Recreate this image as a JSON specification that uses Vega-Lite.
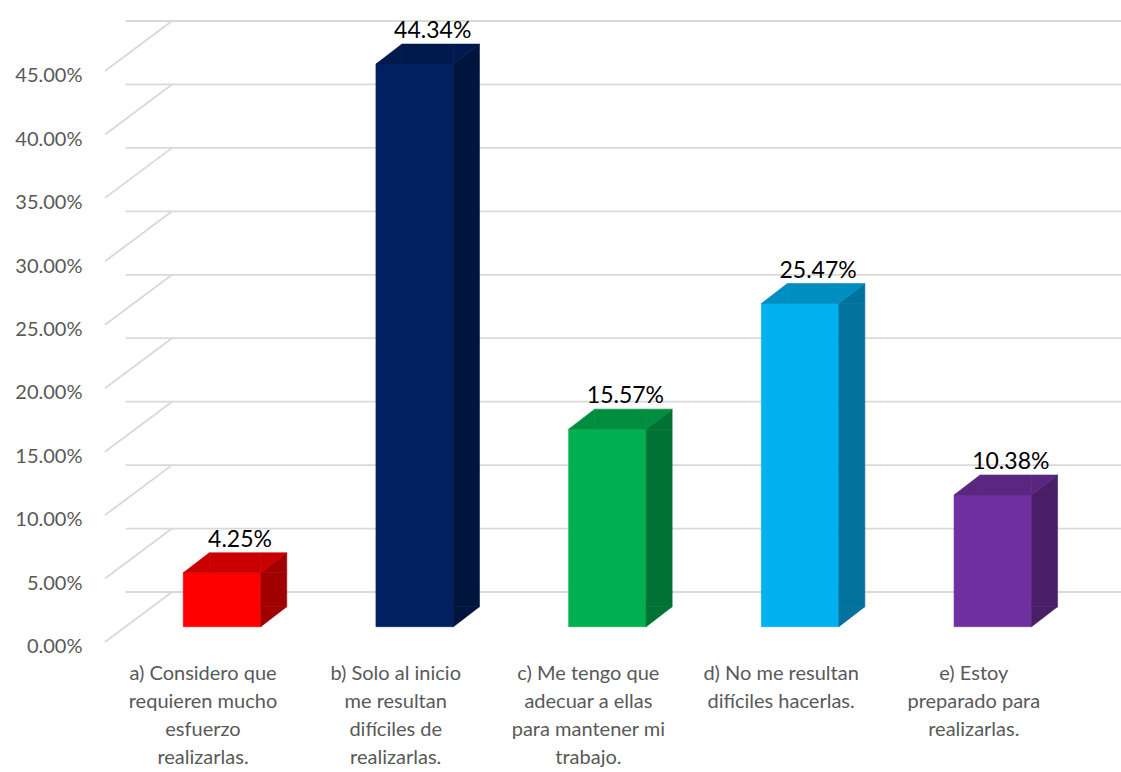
{
  "$schema": "https://vega.github.io/schema/vega-lite/v6.json",
  "width": 963.5,
  "height": 571,
  "autosize": {"type": "none"},
  "padding": {"left": 125.65, "top": 55.7, "right": 31.85, "bottom": 145.3},
  "background": "white",
  "config": {"view": {"stroke": null}, "font": "Lato"},
  "datasets": {
    "bars": [
      {"cat": "a) Considero que\nrequieren mucho\nesfuerzo\nrealizarlas.", "value": 0.0425},
      {"cat": "b) Solo al inicio\nme resultan\ndifíciles de\nrealizarlas.", "value": 0.4434},
      {"cat": "c) Me tengo que\nadecuar a ellas\npara mantener mi\ntrabajo.", "value": 0.1557},
      {"cat": "d) No me resultan\ndifíciles hacerlas.", "value": 0.2547},
      {"cat": "e) Estoy\npreparado para\nrealizarlas.", "value": 0.1038}
    ],
    "gridvals": [
      {"tick": 0}, {"tick": 0.05}, {"tick": 0.1}, {"tick": 0.15}, {"tick": 0.2},
      {"tick": 0.25}, {"tick": 0.3}, {"tick": 0.35}, {"tick": 0.4}, {"tick": 0.45}
    ]
  },
  "layer": [
    {
      "data": {"name": "gridvals"},
      "mark": {"type": "rule", "color": "#D9D9D9", "strokeWidth": 1.8, "xOffset": 46.35, "x2Offset": 31.85, "yOffset": -34.7, "clip": false},
      "encoding": {
        "y": {
          "field": "tick", "type": "quantitative",
          "scale": {"domain": [0, 0.45], "nice": false, "zero": true},
          "axis": {
            "title": null,
            "values": [0, 0.05, 0.1, 0.15, 0.2, 0.25, 0.3, 0.35, 0.4, 0.45],
            "format": ".2%",
            "labelFont": "Lato",
            "labelFontSize": 20,
            "labelColor": "#595959",
            "labelBaseline": "line-top",
            "labelLineHeight": 39.4,
            "offset": 41.65,
            "ticks": false,
            "domain": false,
            "grid": false
          }
        }
      }
    },
    {
      "data": {"name": "gridvals"},
      "mark": {"type": "rule", "color": "#D9D9D9", "strokeWidth": 1.8, "xOffset": -117, "x2Offset": -50, "yOffset": 15.3, "y2Offset": -34.7, "clip": false},
      "encoding": {
        "x": {"datum": "a) Considero que\nrequieren mucho\nesfuerzo\nrealizarlas.", "type": "nominal"},
        "x2": {"datum": "a) Considero que\nrequieren mucho\nesfuerzo\nrealizarlas."},
        "y": {"field": "tick", "type": "quantitative"},
        "y2": {"field": "tick"}
      }
    },
    {
      "data": {"name": "bars"},
      "mark": {"type": "bar", "width": 77.5, "strokeWidth": 0.6},
      "encoding": {
        "x": {
          "field": "cat", "type": "nominal",
          "scale": {"paddingInner": 0, "paddingOuter": 0},
          "axis": {
            "title": null,
            "labelExpr": "split(datum.value, '\\n')",
            "labelFontSize": 20,
            "labelFont": "Lato",
            "labelColor": "#595959",
            "labelLineHeight": 28,
            "labelPadding": 37,
            "labelOffset": -19,
            "labelBaseline": "top",
            "labelAlign": "center",
            "labelAngle": 0,
            "labelLimit": 400,
            "labelOverlap": false,
            "ticks": false,
            "domain": false,
            "grid": false
          }
        },
        "y": {"field": "value", "type": "quantitative"},
        "y2": {"datum": 0},
        "color": {"field": "cat", "type": "nominal", "legend": null, "scale": {"range": ["#FF0000", "#002060", "#00B050", "#00B0F0", "#7030A0"]}},
        "stroke": {"field": "cat", "type": "nominal", "legend": null, "scale": {"range": ["#FF0000", "#002060", "#00B050", "#00B0F0", "#7030A0"]}}
      }
    },
    {
      "data": {"name": "bars"},
      "mark": {"type": "bar", "width": 26, "xOffset": 51.75, "y2Offset": -20, "strokeWidth": 0.6},
      "encoding": {
        "x": {"field": "cat", "type": "nominal"},
        "y": {"field": "value", "type": "quantitative"},
        "y2": {"datum": 0},
        "color": {"field": "cat", "type": "nominal", "legend": null, "scale": {"range": ["#A00000", "#00153E", "#007234", "#00729C", "#491F68"]}},
        "stroke": {"field": "cat", "type": "nominal", "legend": null, "scale": {"range": ["#A00000", "#00153E", "#007234", "#00729C", "#491F68"]}}
      }
    },
    {
      "data": {"name": "bars"},
      "mark": {"type": "point", "filled": true, "opacity": 1, "size": 4, "strokeWidth": 0.6, "shape": "M0,0L26,-20L26,0Z", "xOffset": 38.75},
      "encoding": {
        "x": {"field": "cat", "type": "nominal"},
        "y": {"field": "value", "type": "quantitative"},
        "color": {"field": "cat", "type": "nominal", "legend": null, "scale": {"range": ["#A00000", "#00153E", "#007234", "#00729C", "#491F68"]}},
        "stroke": {"field": "cat", "type": "nominal", "legend": null, "scale": {"range": ["#A00000", "#00153E", "#007234", "#00729C", "#491F68"]}}
      }
    },
    {
      "data": {"name": "bars"},
      "mark": {"type": "point", "filled": true, "opacity": 1, "size": 4, "strokeWidth": 0.6, "shape": "M0,0L0,-20L26,-20Z", "xOffset": 38.75},
      "encoding": {
        "x": {"field": "cat", "type": "nominal"},
        "y": {"datum": 0, "type": "quantitative"},
        "color": {"field": "cat", "type": "nominal", "legend": null, "scale": {"range": ["#A00000", "#00153E", "#007234", "#00729C", "#491F68"]}},
        "stroke": {"field": "cat", "type": "nominal", "legend": null, "scale": {"range": ["#A00000", "#00153E", "#007234", "#00729C", "#491F68"]}}
      }
    },
    {
      "data": {"name": "bars"},
      "mark": {"type": "bar", "width": 51.5, "xOffset": 13, "yOffset": -20, "strokeWidth": 0.6},
      "encoding": {
        "x": {"field": "cat", "type": "nominal"},
        "y": {"field": "value", "type": "quantitative"},
        "y2": {"field": "value"},
        "color": {"field": "cat", "type": "nominal", "legend": null, "scale": {"range": ["#C80000", "#001A4D", "#008D40", "#008DC0", "#5A2680"]}},
        "stroke": {"field": "cat", "type": "nominal", "legend": null, "scale": {"range": ["#C80000", "#001A4D", "#008D40", "#008DC0", "#5A2680"]}}
      }
    },
    {
      "data": {"name": "bars"},
      "mark": {"type": "point", "filled": true, "opacity": 1, "size": 4, "strokeWidth": 0.6, "shape": "M0,0L26,-20L26,0Z", "xOffset": -38.75},
      "encoding": {
        "x": {"field": "cat", "type": "nominal"},
        "y": {"field": "value", "type": "quantitative"},
        "color": {"field": "cat", "type": "nominal", "legend": null, "scale": {"range": ["#C80000", "#001A4D", "#008D40", "#008DC0", "#5A2680"]}},
        "stroke": {"field": "cat", "type": "nominal", "legend": null, "scale": {"range": ["#C80000", "#001A4D", "#008D40", "#008DC0", "#5A2680"]}}
      }
    },
    {
      "data": {"name": "bars"},
      "mark": {"type": "point", "filled": true, "opacity": 1, "size": 4, "strokeWidth": 0.6, "shape": "M0,0L0,-20L26,-20Z", "xOffset": 38.75},
      "encoding": {
        "x": {"field": "cat", "type": "nominal"},
        "y": {"field": "value", "type": "quantitative"},
        "color": {"field": "cat", "type": "nominal", "legend": null, "scale": {"range": ["#C80000", "#001A4D", "#008D40", "#008DC0", "#5A2680"]}},
        "stroke": {"field": "cat", "type": "nominal", "legend": null, "scale": {"range": ["#C80000", "#001A4D", "#008D40", "#008DC0", "#5A2680"]}}
      }
    },
    {
      "data": {"name": "bars"},
      "mark": {"type": "text", "fontSize": 23, "font": "Lato", "color": "#000000", "xOffset": 18, "yOffset": -33, "baseline": "middle", "align": "center"},
      "encoding": {
        "x": {"field": "cat", "type": "nominal"},
        "y": {"field": "value", "type": "quantitative"},
        "text": {"field": "value", "type": "quantitative", "format": ".2%"}
      }
    }
  ],
  "resolve": {"scale": {"color": "independent", "stroke": "independent"}}
}
